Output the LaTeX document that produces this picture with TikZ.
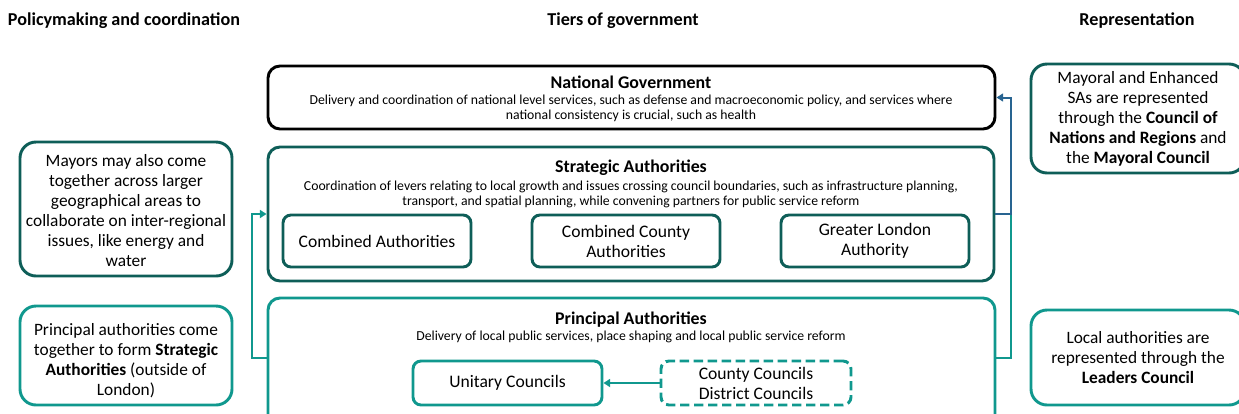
\documentclass[tikz,border=0pt]{standalone}
\usepackage{fontspec}
\setmainfont{Carlito}
\usetikzlibrary{positioning,fit,arrows.meta}
\definecolor{darkteal}{RGB}{14,94,88}
\definecolor{localteal}{RGB}{16,152,142}
\definecolor{natblue}{RGB}{40,100,145}
\begin{document}
\begin{tikzpicture}[x=0.75pt,y=-0.75pt,
  every node/.style={align=center,inner sep=0pt,font=\fontsize{13.2}{15}\selectfont},
  heading/.style={font=\fontsize{13.6}{15}\selectfont\bfseries},
  tier/.style={draw,line width=2.2pt,rounded corners=9pt},
  tiertitle/.style={font=\fontsize{13.4}{15}\selectfont\bfseries},
  tierdesc/.style={font=\fontsize{10.3}{11.3}\selectfont},
  unit/.style={draw,line width=2.2pt,rounded corners=6pt},
  sidebox/.style={draw,line width=2.2pt,rounded corners=12pt},
  sidetext/.style={font=\fontsize{13}{15}\selectfont},
  link/.style={line width=1.5pt,-{Triangle[length=5pt,width=6pt]}}]

\useasboundingbox (0,0) rectangle (1239,414);
\clip (0,0) rectangle (1239,414);

% column headings
\node[heading] (polhead) at (124,21) {Policymaking and coordination};
\node[heading] (tierhead) at (623,21) {Tiers of government};
\node[heading] (rephead) at (1137,21) {Representation};

% tiers
\node[tier,fit={(268,66) (995,129)}] (natgov) {};
\node[tiertitle] (natgovtitle) at (631,82) {National Government};
\node[tierdesc] (natgovdesc) at (631,108) {Delivery and coordination of national level services, such as defense and macroeconomic policy, and services where\\national consistency is crucial, such as health};

\node[tier,draw=darkteal,fit={(268,147) (994,281)}] (strategic) {};
\node[tiertitle] (strattitle) at (631,168) {Strategic Authorities};
\node[tierdesc] (stratdesc) at (631,194) {Coordination of levers relating to local growth and issues crossing council boundaries, such as infrastructure planning,\\transport, and spatial planning, while convening partners for public service reform};
\node[unit,draw=darkteal,fit={(283,215) (471,267)}] (combined) {};
\node[unit,draw=darkteal,fit={(532,215) (720,267)}] (combcounty) {};
\node[unit,draw=darkteal,fit={(781,215) (969,267)}] (gla) {};
\node (combinedtext) at (combined) {Combined Authorities};
\node (combcountytext) at (combcounty) {Combined County\\Authorities};
\node (glatext) at (gla) {Greater London\\Authority};

\node[tier,draw=localteal,fit={(268,298) (995,440)}] (principal) {};
\node[tiertitle] (princtitle) at (631,320) {Principal Authorities};
\node[tierdesc] (princdesc) at (631,337) {Delivery of local public services, place shaping and local public service reform};
\node[unit,draw=localteal,fit={(413,361) (602,405)}] (unitary) {};
\node[unit,draw=localteal,dash pattern=on 7pt off 3.5pt,fit={(661,361) (851,405)}] (twotier) {};
\node (unitarytext) at (unitary) {Unitary Councils};
\node (twotiertext) at (twotier) {County Councils\\District Councils};

% side boxes
\node[sidebox,draw=darkteal,fit={(20,142) (232,276)}] (mayors) {};
\node[sidebox,draw=localteal,fit={(20,306) (232,405)}] (pacome) {};
\node[sidebox,draw=darkteal,fit={(1031,64) (1245,173)}] (mayoral) {};
\node[sidebox,draw=localteal,fit={(1031,310) (1245,405)}] (leaders) {};
\node[sidetext] (mayorstext) at ([yshift=-1pt]mayors) {Mayors may also come\\together across larger\\geographical areas to\\collaborate on inter-regional\\issues, like energy and\\water};
\node[sidetext] (pacometext) at ([yshift=-4pt]pacome) {Principal authorities come\\together to form \textbf{Strategic}\\\textbf{Authorities} (outside of\\London)};
\node[sidetext] (mayoraltext) at (mayoral) {Mayoral and Enhanced\\SAs are represented\\through the \textbf{Council of}\\\textbf{Nations and Regions} and\\the \textbf{Mayoral Council}};
\node[sidetext] (leaderstext) at (leaders) {Local authorities are\\represented through the\\\textbf{Leaders Council}};

% connectors
\coordinate (palink) at (0,358);
\draw[link,localteal] (unitary.east -| twotier.west) -- (unitary.east);
\draw[link,localteal] (principal.west |- palink) -- ++(-15,0) |- (strategic.west);
\draw[line width=1.5pt,localteal] (principal.east |- palink) -| ([xshift=12pt]strategic.east);
\draw[link,natblue] (strategic.east) -- ++(16,0) |- (natgov.east);
\end{tikzpicture}
\end{document}
